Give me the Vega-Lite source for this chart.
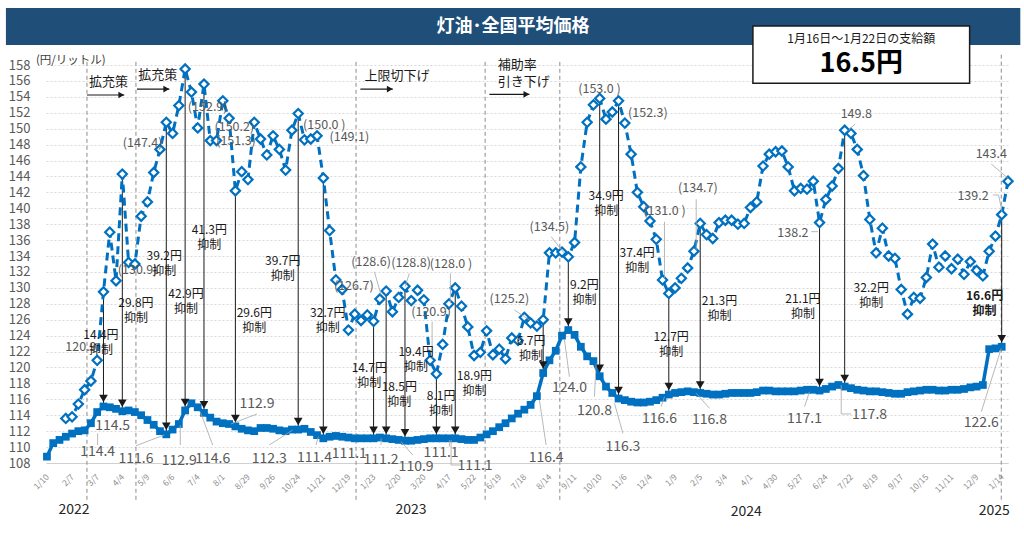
{
  "$schema": "https://vega.github.io/schema/vega-lite/v6.json",
  "width": 962,
  "height": 398,
  "autosize": {"type": "none"},
  "padding": {"left": 46, "top": 65, "right": 16, "bottom": 77},
  "background": "white",
  "config": {"font": "Noto Sans CJK JP", "view": {"stroke": null}, "axis": {"labelFont": "Noto Sans CJK JP"}},
  "data": {"values": [
    {"k":0,"d":"2022-01-10","act":108.8},
    {"k":1,"d":"2022-01-17","act":110.5},
    {"k":2,"d":"2022-01-24","act":110.9},
    {"k":3,"d":"2022-01-31","act":111.3,"pre":113.6},
    {"k":4,"d":"2022-02-07","act":111.7,"pre":113.8},
    {"k":5,"d":"2022-02-14","act":112.0,"pre":115.4},
    {"k":6,"d":"2022-02-21","act":112.1,"pre":117.2},
    {"k":7,"d":"2022-02-28","act":113.0,"pre":118.3},
    {"k":8,"d":"2022-03-07","act":114.4,"pre":120.9},
    {"k":9,"d":"2022-03-14","act":115.1,"pre":129.5,"sub":14.4},
    {"k":10,"d":"2022-03-22","act":115.0,"pre":137.0},
    {"k":11,"d":"2022-03-28","act":114.8,"pre":130.9},
    {"k":12,"d":"2022-04-04","act":114.5,"pre":144.3,"sub":29.8},
    {"k":13,"d":"2022-04-11","act":114.6,"pre":133.2},
    {"k":14,"d":"2022-04-18","act":114.4,"pre":133.0},
    {"k":15,"d":"2022-04-25","act":114.0,"pre":139.0},
    {"k":16,"d":"2022-05-09","act":113.4,"pre":140.8},
    {"k":17,"d":"2022-05-16","act":112.8,"pre":144.5},
    {"k":18,"d":"2022-05-23","act":112.0,"pre":147.4},
    {"k":19,"d":"2022-05-30","act":111.6,"pre":150.8,"sub":39.2},
    {"k":20,"d":"2022-06-06","act":112.2,"pre":149.4},
    {"k":21,"d":"2022-06-13","act":112.9,"pre":152.9},
    {"k":22,"d":"2022-06-20","act":114.6,"pre":157.5,"sub":42.9},
    {"k":23,"d":"2022-06-27","act":115.5,"pre":154.6},
    {"k":24,"d":"2022-07-04","act":115.0,"pre":150.1},
    {"k":25,"d":"2022-07-11","act":114.3,"pre":155.6,"sub":41.3},
    {"k":26,"d":"2022-07-19","act":113.7,"pre":148.5},
    {"k":27,"d":"2022-07-25","act":113.2,"pre":148.5},
    {"k":28,"d":"2022-08-01","act":113.0,"pre":153.5},
    {"k":29,"d":"2022-08-08","act":112.9,"pre":151.3},
    {"k":30,"d":"2022-08-15","act":112.6,"pre":142.2,"sub":29.6},
    {"k":31,"d":"2022-08-22","act":112.3,"pre":144.6},
    {"k":32,"d":"2022-08-29","act":112.1,"pre":143.6},
    {"k":33,"d":"2022-09-05","act":112.0,"pre":150.8},
    {"k":34,"d":"2022-09-12","act":112.4,"pre":148.7},
    {"k":35,"d":"2022-09-20","act":112.4,"pre":146.7},
    {"k":36,"d":"2022-09-26","act":112.3,"pre":149.1},
    {"k":37,"d":"2022-10-03","act":112.1,"pre":147.4},
    {"k":38,"d":"2022-10-11","act":112.0,"pre":144.8},
    {"k":39,"d":"2022-10-17","act":112.2,"pre":149.8},
    {"k":40,"d":"2022-10-24","act":112.2,"pre":151.9,"sub":39.7},
    {"k":41,"d":"2022-10-31","act":112.3,"pre":148.6},
    {"k":42,"d":"2022-11-07","act":111.9,"pre":148.7},
    {"k":43,"d":"2022-11-14","act":111.5,"pre":149.1},
    {"k":44,"d":"2022-11-21","act":111.1,"pre":143.8,"sub":32.7},
    {"k":45,"d":"2022-11-28","act":111.3,"pre":137.2},
    {"k":46,"d":"2022-12-05","act":111.4,"pre":131.0},
    {"k":47,"d":"2022-12-12","act":111.3,"pre":129.8},
    {"k":48,"d":"2022-12-19","act":111.2,"pre":124.7},
    {"k":49,"d":"2022-12-26","act":111.1,"pre":126.7},
    {"k":50,"d":"2023-01-10","act":111.1,"pre":125.9},
    {"k":51,"d":"2023-01-16","act":111.1,"pre":126.6},
    {"k":52,"d":"2023-01-23","act":111.1,"pre":125.8,"sub":14.7},
    {"k":53,"d":"2023-01-30","act":111.2,"pre":128.6},
    {"k":54,"d":"2023-02-06","act":111.1,"pre":129.6,"sub":18.5},
    {"k":55,"d":"2023-02-13","act":111.0,"pre":127.0},
    {"k":56,"d":"2023-02-20","act":110.9,"pre":128.8},
    {"k":57,"d":"2023-02-27","act":110.8,"pre":130.2,"sub":19.4},
    {"k":58,"d":"2023-03-06","act":110.8,"pre":128.4},
    {"k":59,"d":"2023-03-13","act":110.9,"pre":129.7},
    {"k":60,"d":"2023-03-20","act":111.0,"pre":128.5},
    {"k":61,"d":"2023-03-27","act":111.1,"pre":120.9},
    {"k":62,"d":"2023-04-03","act":111.1,"pre":119.2,"sub":8.1},
    {"k":63,"d":"2023-04-10","act":111.1,"pre":122.9},
    {"k":64,"d":"2023-04-17","act":111.1,"pre":128.0},
    {"k":65,"d":"2023-04-24","act":111.1,"pre":130.0,"sub":18.9},
    {"k":66,"d":"2023-05-08","act":111.0,"pre":127.7},
    {"k":67,"d":"2023-05-15","act":110.9,"pre":125.1},
    {"k":68,"d":"2023-05-22","act":110.9,"pre":121.5},
    {"k":69,"d":"2023-05-29","act":111.2,"pre":121.9},
    {"k":70,"d":"2023-06-05","act":111.6,"pre":124.6},
    {"k":71,"d":"2023-06-12","act":112.0,"pre":121.6},
    {"k":72,"d":"2023-06-19","act":112.5,"pre":122.3},
    {"k":73,"d":"2023-06-26","act":113.0,"pre":121.1},
    {"k":74,"d":"2023-07-03","act":113.6,"pre":123.7},
    {"k":75,"d":"2023-07-10","act":114.2,"pre":123.4},
    {"k":76,"d":"2023-07-18","act":114.7,"pre":126.3},
    {"k":77,"d":"2023-07-24","act":115.3,"pre":125.6},
    {"k":78,"d":"2023-07-31","act":116.4,"pre":125.2},
    {"k":79,"d":"2023-08-07","act":119.3,"pre":126.0,"sub":6.7},
    {"k":80,"d":"2023-08-14","act":120.9,"pre":134.4},
    {"k":81,"d":"2023-08-21","act":122.1,"pre":134.4},
    {"k":82,"d":"2023-08-28","act":124.0,"pre":134.5},
    {"k":83,"d":"2023-09-04","act":124.7,"pre":133.9,"sub":9.2},
    {"k":84,"d":"2023-09-11","act":124.1,"pre":135.7},
    {"k":85,"d":"2023-09-19","act":122.6,"pre":145.2},
    {"k":86,"d":"2023-09-25","act":121.4,"pre":150.8},
    {"k":87,"d":"2023-10-02","act":120.8,"pre":153.0},
    {"k":88,"d":"2023-10-10","act":118.9,"pre":153.8,"sub":34.9},
    {"k":89,"d":"2023-10-16","act":117.6,"pre":151.2},
    {"k":90,"d":"2023-10-23","act":116.8,"pre":152.1},
    {"k":91,"d":"2023-10-30","act":116.1,"pre":153.5,"sub":37.4},
    {"k":92,"d":"2023-11-06","act":115.9,"pre":150.7},
    {"k":93,"d":"2023-11-13","act":115.7,"pre":146.8},
    {"k":94,"d":"2023-11-20","act":115.6,"pre":142.0},
    {"k":95,"d":"2023-11-27","act":115.6,"pre":140.2},
    {"k":96,"d":"2023-12-04","act":115.7,"pre":138.4},
    {"k":97,"d":"2023-12-11","act":115.9,"pre":136.1},
    {"k":98,"d":"2023-12-18","act":116.2,"pre":131.0},
    {"k":99,"d":"2023-12-25","act":116.6,"pre":129.3,"sub":12.7},
    {"k":100,"d":"2024-01-09","act":116.8,"pre":130.0},
    {"k":101,"d":"2024-01-15","act":116.9,"pre":131.2},
    {"k":102,"d":"2024-01-22","act":117.0,"pre":132.5},
    {"k":103,"d":"2024-01-29","act":116.9,"pre":134.6},
    {"k":104,"d":"2024-02-05","act":116.8,"pre":138.1,"sub":21.3},
    {"k":105,"d":"2024-02-13","act":116.7,"pre":136.7},
    {"k":106,"d":"2024-02-19","act":116.6,"pre":136.2},
    {"k":107,"d":"2024-02-26","act":116.6,"pre":138.2},
    {"k":108,"d":"2024-03-04","act":116.7,"pre":138.5},
    {"k":109,"d":"2024-03-11","act":116.8,"pre":138.5},
    {"k":110,"d":"2024-03-18","act":116.8,"pre":138.0},
    {"k":111,"d":"2024-03-25","act":116.8,"pre":138.1},
    {"k":112,"d":"2024-04-01","act":116.8,"pre":140.1},
    {"k":113,"d":"2024-04-08","act":116.9,"pre":140.8},
    {"k":114,"d":"2024-04-15","act":117.1,"pre":145.3},
    {"k":115,"d":"2024-04-22","act":117.1,"pre":146.8},
    {"k":116,"d":"2024-04-30","act":117.0,"pre":147.1},
    {"k":117,"d":"2024-05-07","act":117.0,"pre":147.2},
    {"k":118,"d":"2024-05-13","act":117.0,"pre":145.2},
    {"k":119,"d":"2024-05-20","act":117.0,"pre":142.2},
    {"k":120,"d":"2024-05-27","act":117.1,"pre":142.5},
    {"k":121,"d":"2024-06-03","act":117.2,"pre":142.4},
    {"k":122,"d":"2024-06-10","act":117.2,"pre":143.4},
    {"k":123,"d":"2024-06-17","act":117.1,"pre":138.2,"sub":21.1},
    {"k":124,"d":"2024-06-24","act":117.3,"pre":141.1},
    {"k":125,"d":"2024-07-01","act":117.6,"pre":142.8},
    {"k":126,"d":"2024-07-08","act":117.8,"pre":145.0},
    {"k":127,"d":"2024-07-16","act":117.6,"pre":149.8,"sub":32.2},
    {"k":128,"d":"2024-07-22","act":117.4,"pre":149.4},
    {"k":129,"d":"2024-07-29","act":117.2,"pre":147.4},
    {"k":130,"d":"2024-08-05","act":117.1,"pre":144.1},
    {"k":131,"d":"2024-08-13","act":117.0,"pre":138.6},
    {"k":132,"d":"2024-08-19","act":117.0,"pre":134.4},
    {"k":133,"d":"2024-08-26","act":116.9,"pre":137.5},
    {"k":134,"d":"2024-09-02","act":116.8,"pre":134.0},
    {"k":135,"d":"2024-09-09","act":116.7,"pre":133.7},
    {"k":136,"d":"2024-09-17","act":116.7,"pre":129.8},
    {"k":137,"d":"2024-09-24","act":116.9,"pre":126.7},
    {"k":138,"d":"2024-09-30","act":117.0,"pre":128.8},
    {"k":139,"d":"2024-10-07","act":117.1,"pre":128.7},
    {"k":140,"d":"2024-10-15","act":117.2,"pre":131.3},
    {"k":141,"d":"2024-10-21","act":117.2,"pre":135.5},
    {"k":142,"d":"2024-10-28","act":117.1,"pre":132.6},
    {"k":143,"d":"2024-11-05","act":117.1,"pre":134.0},
    {"k":144,"d":"2024-11-11","act":117.2,"pre":132.4},
    {"k":145,"d":"2024-11-18","act":117.2,"pre":133.6},
    {"k":146,"d":"2024-11-25","act":117.3,"pre":131.7},
    {"k":147,"d":"2024-12-02","act":117.5,"pre":133.3},
    {"k":148,"d":"2024-12-09","act":117.6,"pre":132.2},
    {"k":149,"d":"2024-12-16","act":117.8,"pre":131.5},
    {"k":150,"d":"2024-12-23","act":122.3,"pre":134.6},
    {"k":151,"d":"2025-01-06","act":122.4,"pre":136.5},
    {"k":152,"d":"2025-01-14","act":122.6,"pre":139.2,"sub":16.6},
    {"k":153,"d":"2025-01-20","pre":143.4}
  ]},
  "encoding": {
    "x": {"field": "k", "type": "quantitative",
      "scale": {"domain": [-0.15, 153], "nice": false, "zero": false},
      "axis": {"title": null, "values": [0,4,8,12,16,20,24,28,32,36,40,44,48,52,56,60,64,68,72,76,80,84,88,92,96,100,104,108,112,116,120,124,128,132,136,140,144,148,152],
        "labelExpr": "['1/10','2/7','3/7','4/4','5/9','6/6','7/4','8/1','8/29','9/26','10/24','11/21','12/19','1/23','2/20','3/20','4/17','5/22','6/19','7/18','8/14','9/11','10/10','11/6','12/4','1/9','2/5','3/4','4/1','4/30','5/27','6/24','7/22','8/19','9/17','10/15','11/11','12/9','1/14'][round(datum.value/4)]",
        "labelAngle": -45, "labelAlign": "right", "labelBaseline": "middle", "labelFontSize": 8.5, "labelColor": "#8c8c8c",
        "labelPadding": 12, "ticks": false, "grid": false, "domainColor": "#d0d0d0", "domainWidth": 1,
        "labelOverlap": false, "labelBound": false, "labelFlush": false}},
    "y": {"field": "pre", "type": "quantitative",
      "scale": {"domain": [108, 158], "nice": false, "zero": false},
      "axis": {"title": null, "values": [108,110,112,114,116,118,120,122,124,126,128,130,132,134,136,138,140,142,144,146,148,150,152,154,156,158],
        "labelFontSize": 13, "labelColor": "#595959", "labelPadding": 16, "ticks": false, "domain": false,
        "grid": true, "gridColor": "#d9d9d9", "gridDash": [2, 2], "gridWidth": 1, "labelFlush": false}}
  },
  "layer": [
    {"data": {"values": [{"k": -6.53, "k2": 154.96, "v": 165.16, "v2": 160.51}]},
     "mark": {"type": "rect", "fill": "#1f4e79"},
     "encoding": {"x2": {"field": "k2"}, "y": {"field": "v", "type": "quantitative"}, "y2": {"field": "v2"}}},
    {"data": {"values": [{"k": 74.2, "v": 162.8, "t": "灯油･全国平均価格"}]},
     "mark": {"type": "text", "color": "white", "fontSize": 18, "fontWeight": "bold", "baseline": "middle"},
     "encoding": {"y": {"field": "v", "type": "quantitative"}, "text": {"field": "t"}}},
    {"data": {"values": [
      {"k": 6.37, "v": 158.4, "v2": 103}, {"k": 14.17, "v": 158.4, "v2": 103}, {"k": 49.21, "v": 158.4, "v2": 103},
      {"k": 69.76, "v": 158.4, "v2": 103}, {"k": 81.65, "v": 158.4, "v2": 103}, {"k": 151.93, "v": 159.3, "v2": 103}]},
     "mark": {"type": "rule", "stroke": "#8c8c8c", "strokeDash": [4, 3], "strokeWidth": 1},
     "encoding": {"y": {"field": "v", "type": "quantitative"}, "y2": {"field": "v2"}}},
    {"transform": [{"filter": "isValid(datum.sub)"}],
     "mark": {"type": "rule", "color": "#1a1a1a", "strokeWidth": 1},
     "encoding": {"y2": {"field": "act"}}},
    {"mark": {"type": "line", "color": "#0070C0", "strokeWidth": 3, "strokeDash": [8, 5]}},
    {"mark": {"type": "point", "shape": "diamond", "filled": true, "fill": "white", "stroke": "#0070C0", "strokeWidth": 2.2, "size": 85, "opacity": 1}},
    {"mark": {"type": "line", "color": "#0070C0", "strokeWidth": 3.5},
     "encoding": {"y": {"field": "act", "type": "quantitative"}}},
    {"mark": {"type": "point", "shape": "square", "filled": true, "color": "#0070C0", "size": 60, "opacity": 1},
     "encoding": {"y": {"field": "act", "type": "quantitative"}}},
    {"transform": [{"filter": "isValid(datum.sub)"}],
     "mark": {"type": "point", "shape": "triangle-down", "filled": true, "color": "#1a1a1a", "size": 75, "yOffset": -8, "opacity": 1},
     "encoding": {"y": {"field": "act", "type": "quantitative"}}},
    {"data": {"values": [
      {"k":8.07,"v":110.26,"k2":8.07,"v2":111.73},
      {"k":14.17,"v":110.17,"k2":18.68,"v2":111.52},
      {"k":21.23,"v":110.26,"k2":21.23,"v2":112.77},
      {"k":26.39,"v":110.26,"k2":24.41,"v2":114.44},
      {"k":33.44,"v":114.16,"k2":29.3,"v2":112.9},
      {"k":35.4,"v":110.26,"k2":39.13,"v2":112.15},
      {"k":42.84,"v":110.26,"k2":43.21,"v2":111.3},
      {"k":53.19,"v":110.26,"k2":53.19,"v2":111.1},
      {"k":58.24,"v":109.0,"k2":56.38,"v2":110.68},
      {"k":64.07,"v":110.05,"k2":64.07,"v2":110.89},
      {"k":64.34,"v":110.89,"k2":64.34,"v2":107.75},
      {"k":64.34,"v":107.75,"k2":65.93,"v2":107.75},
      {"k":78.4,"v":115.91,"k2":79.47,"v2":110.26},
      {"k":82.39,"v":123.45,"k2":83.18,"v2":118.84},
      {"k":87.43,"v":120.52,"k2":87.16,"v2":116.33},
      {"k":90.35,"v":115.5,"k2":91.69,"v2":111.73},
      {"k":98.31,"v":116.33,"k2":97.78,"v2":115.07},
      {"k":103.36,"v":116.76,"k2":105.48,"v2":114.87},
      {"k":121.4,"v":116.96,"k2":120.61,"v2":115.07},
      {"k":126.45,"v":117.8,"k2":126.45,"v2":114.16},
      {"k":126.45,"v":114.16,"k2":128.04,"v2":114.16},
      {"k":151.93,"v":122.41,"k2":148.75,"v2":114.44},
      {"k":52.13,"v":132.03,"k2":53.19,"v2":129.1},
      {"k":57.7,"v":131.83,"k2":57.02,"v2":130.15},
      {"k":64.23,"v":131.83,"k2":64.23,"v2":128.06},
      {"k":61.32,"v":125.75,"k2":61.32,"v2":121.15},
      {"k":74.42,"v":127.22,"k2":76.81,"v2":125.96},
      {"k":80.27,"v":136.43,"k2":82.29,"v2":134.42},
      {"k":98.31,"v":138.31,"k2":98.31,"v2":131.2},
      {"k":103.36,"v":141.13,"k2":103.36,"v2":134.76},
      {"k":128.68,"v":150.59,"k2":127.61,"v2":149.83},
      {"k":121.67,"v":137.06,"k2":122.74,"v2":137.06},
      {"k":150.34,"v":145.56,"k2":153.0,"v2":143.77},
      {"k":150.61,"v":141.67,"k2":151.5,"v2":141.67},
      {"k":151.5,"v":141.67,"k2":152.04,"v2":139.57}
     ]},
     "mark": {"type": "rule", "color": "#a6a6a6", "strokeWidth": 0.8},
     "encoding": {"x2": {"field": "k2"}, "y": {"field": "v", "type": "quantitative"}, "y2": {"field": "v2"}}},
    {"data": {"values": [
      {"k":8.07,"v":109.42,"t":"114.4"},
      {"k":10.46,"v":112.69,"t":"114.5"},
      {"k":14.17,"v":108.46,"t":"111.6"},
      {"k":21.07,"v":108.29,"t":"112.9"},
      {"k":26.39,"v":108.46,"t":"114.6"},
      {"k":33.44,"v":115.41,"t":"112.9"},
      {"k":35.4,"v":108.46,"t":"112.3"},
      {"k":42.6,"v":108.59,"t":"111.4"},
      {"k":48.14,"v":109.13,"t":"111.1"},
      {"k":53.19,"v":108.38,"t":"111.2"},
      {"k":58.77,"v":107.54,"t":"110.9"},
      {"k":62.75,"v":109.29,"t":"111.1"},
      {"k":68.16,"v":107.62,"t":"111.1"},
      {"k":79.47,"v":108.59,"t":"116.4"},
      {"k":83.18,"v":117.46,"t":"124.0"},
      {"k":87.16,"v":114.57,"t":"120.8"},
      {"k":91.69,"v":110.05,"t":"116.3"},
      {"k":97.52,"v":113.49,"t":"116.6"},
      {"k":105.48,"v":113.4,"t":"116.8"},
      {"k":120.61,"v":113.49,"t":"117.1"},
      {"k":130.96,"v":114.03,"t":"117.8"},
      {"k":148.75,"v":112.99,"t":"122.6"}
     ]},
     "mark": {"type": "text", "fontSize": 14, "color": "#595959", "baseline": "middle"},
     "encoding": {"y": {"field": "v", "type": "quantitative"}, "text": {"field": "t"}}},
    {"data": {"values": [
      {"k":5.41,"v":122.53,"t":"120.9"},
      {"k":14.44,"v":132.25,"t":"(130.9)"},
      {"k":15.24,"v":148.24,"t":"(147.4)"},
      {"k":25.59,"v":152.69,"t":"(152.9)"},
      {"k":29.83,"v":150.17,"t":"(150.2)"},
      {"k":30.1,"v":148.49,"t":"(151.3)"},
      {"k":44.16,"v":150.46,"t":"(150.0 )"},
      {"k":48.14,"v":148.92,"t":"(149.1)"},
      {"k":48.85,"v":130.24,"t":"(126.7)"},
      {"k":51.6,"v":133.29,"t":"(128.6)"},
      {"k":57.97,"v":133.09,"t":"(128.8)"},
      {"k":64.34,"v":133.0,"t":"(128.0 )"},
      {"k":61.16,"v":127.01,"t":"(120.9)"},
      {"k":73.63,"v":128.56,"t":"(125.2)"},
      {"k":80.0,"v":137.69,"t":"(134.5)"},
      {"k":87.96,"v":154.95,"t":"(153.0 )"},
      {"k":95.67,"v":152.01,"t":"(152.3)"},
      {"k":98.31,"v":139.66,"t":"(131.0 )"},
      {"k":103.63,"v":142.51,"t":"(134.7)"},
      {"k":128.84,"v":151.84,"t":"149.8"},
      {"k":118.76,"v":136.93,"t":"138.2"},
      {"k":150.34,"v":146.78,"t":"143.4"},
      {"k":147.43,"v":141.54,"t":"139.2"}
     ]},
     "mark": {"type": "text", "fontSize": 12.5, "color": "#595959", "baseline": "middle"},
     "encoding": {"y": {"field": "v", "type": "quantitative"}, "text": {"field": "t"}}},
    {"data": {"values": [
      {"k":8.6,"v":124.04,"t":"14.4円\n抑制"},
      {"k":14.17,"v":128.14,"t":"29.8円\n抑制"},
      {"k":18.68,"v":134.03,"t":"39.2円\n抑制"},
      {"k":22.14,"v":129.23,"t":"42.9円\n抑制"},
      {"k":25.85,"v":137.31,"t":"41.3円\n抑制"},
      {"k":33.01,"v":126.8,"t":"29.6円\n抑制"},
      {"k":37.54,"v":133.34,"t":"39.7円\n抑制"},
      {"k":44.7,"v":126.8,"t":"32.7円\n抑制"},
      {"k":51.33,"v":119.93,"t":"14.7円\n抑制"},
      {"k":56.1,"v":117.52,"t":"18.5円\n抑制"},
      {"k":58.77,"v":121.98,"t":"19.4円\n抑制"},
      {"k":62.75,"v":116.38,"t":"8.1円\n抑制"},
      {"k":68.05,"v":118.9,"t":"18.9円\n抑制"},
      {"k":77.08,"v":123.35,"t":"6.7円\n抑制"},
      {"k":85.57,"v":130.4,"t":"9.2円\n抑制"},
      {"k":89.03,"v":141.51,"t":"34.9円\n抑制"},
      {"k":93.96,"v":134.34,"t":"37.4円\n抑制"},
      {"k":99.38,"v":123.79,"t":"12.7円\n抑制"},
      {"k":107.07,"v":128.31,"t":"21.3円\n抑制"},
      {"k":120.35,"v":128.63,"t":"21.1円\n抑制"},
      {"k":131.23,"v":129.98,"t":"32.2円\n抑制"}
     ]},
     "mark": {"type": "text", "fontSize": 12, "color": "#1a1a1a", "baseline": "middle", "lineBreak": "\n", "lineHeight": 15},
     "encoding": {"y": {"field": "v", "type": "quantitative"}, "text": {"field": "t"}}},
    {"data": {"values": [{"k":149.27,"v":129.0,"t":"16.6円\n抑制"}]},
     "mark": {"type": "text", "fontSize": 12, "fontWeight": "bold", "color": "#1a1a1a", "baseline": "middle", "lineBreak": "\n", "lineHeight": 15},
     "encoding": {"y": {"field": "v", "type": "quantitative"}, "text": {"field": "t"}}},
    {"data": {"values": [
      {"k":9.79,"v":155.9,"t":"拡充策"},
      {"k":17.63,"v":156.71,"t":"拡充策"},
      {"k":55.71,"v":156.64,"t":"上限切下げ"}
     ]},
     "mark": {"type": "text", "fontSize": 13, "color": "#1a1a1a", "baseline": "middle"},
     "encoding": {"y": {"field": "v", "type": "quantitative"}, "text": {"field": "t"}}},
    {"data": {"values": [{"k":71.78,"v":157.96,"t":"補助率\n引き下げ"}]},
     "mark": {"type": "text", "fontSize": 13, "color": "#1a1a1a", "baseline": "middle", "align": "left", "lineBreak": "\n", "lineHeight": 17},
     "encoding": {"y": {"field": "v", "type": "quantitative"}, "text": {"field": "t"}}},
    {"data": {"values": [
      {"k":6.37,"k2":12.31,"v":154.23},
      {"k":14.33,"k2":19.48,"v":154.98},
      {"k":49.9,"k2":55.06,"v":154.98},
      {"k":70.44,"k2":76.81,"v":154.32}
     ]},
     "layer": [
       {"mark": {"type": "rule", "color": "#1a1a1a", "strokeWidth": 1.2},
        "encoding": {"x2": {"field": "k2"}, "y": {"field": "v", "type": "quantitative"}}},
       {"mark": {"type": "point", "shape": "triangle-right", "filled": true, "color": "#1a1a1a", "size": 45, "xOffset": -3, "opacity": 1},
        "encoding": {"x": {"field": "k2", "type": "quantitative"}, "y": {"field": "v", "type": "quantitative"}}}
     ]},
    {"data": {"values": [
      {"k":4.3,"v":102.1,"t":"2022"},
      {"k":57.97,"v":102.1,"t":"2023"},
      {"k":111.32,"v":101.84,"t":"2024"},
      {"k":150.82,"v":101.97,"t":"2025"}
     ]},
     "mark": {"type": "text", "fontSize": 14, "color": "#262626", "baseline": "middle"},
     "encoding": {"y": {"field": "v", "type": "quantitative"}, "text": {"field": "t"}}},
    {"data": {"values": [{"k": -1.75, "v": 158.44, "t": "(円/リットル)"}]},
     "mark": {"type": "text", "fontSize": 11.5, "color": "#404040", "baseline": "middle", "align": "left"},
     "encoding": {"y": {"field": "v", "type": "quantitative"}, "text": {"field": "t"}}},
    {"data": {"values": [{"k": 112.39, "k2": 146.89, "v": 162.9, "v2": 155.7}]},
     "mark": {"type": "rect", "fill": "white", "stroke": "#1a1a1a", "strokeWidth": 1.5},
     "encoding": {"x2": {"field": "k2"}, "y": {"field": "v", "type": "quantitative"}, "y2": {"field": "v2"}}},
    {"data": {"values": [{"k": 129.64, "v": 161.3, "t": "1月16日～1月22日の支給額"}]},
     "mark": {"type": "text", "fontSize": 12, "color": "#1a1a1a", "baseline": "middle"},
     "encoding": {"y": {"field": "v", "type": "quantitative"}, "text": {"field": "t"}}},
    {"data": {"values": [{"k": 129.64, "v": 158.1, "t": "16.5円"}]},
     "mark": {"type": "text", "fontSize": 27, "fontWeight": "bold", "color": "#000000", "baseline": "middle"},
     "encoding": {"y": {"field": "v", "type": "quantitative"}, "text": {"field": "t"}}}
  ]
}
